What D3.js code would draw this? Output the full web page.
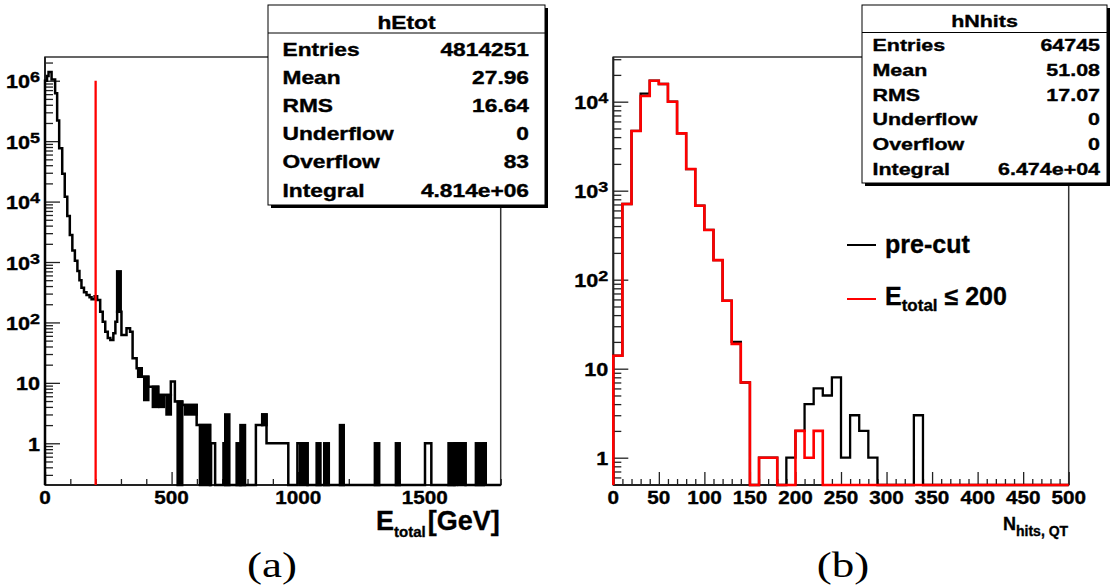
<!DOCTYPE html>
<html><head><meta charset="utf-8">
<script src="https://cdn.jsdelivr.net/npm/d3@7"></script>
<style>
html,body{margin:0;padding:0;background:#fff;}
svg{display:block;}
text{font-family:"Liberation Sans",Arial,Helvetica,sans-serif;font-weight:bold;fill:#000;stroke:#000;stroke-width:0.35px;}
text.serif{stroke:none;}
</style></head><body>
<svg id="chart" width="1114" height="588"></svg>
<script>
// ---------------- DATA ----------------
// Panel (a): hEtot, E_total in GeV
const etotRange = [0, 1800];
const etotYRange = [0.204, 2.47e6];
// [lowGeV, highGeV, count] ; gaps are empty bins
const etotBins = [
 [0,8,1.0e6],[8,14,1.2e6],[14,26,1.4e6],[26,40,1.05e6],[40,48,6.2e5],[48,56,2.2e5],
 [56,68,7.6e4],[68,78,2.9e4],[78,88,1.2e4],[88,98,5.8e3],[98,108,2.8e3],[108,118,1.55e3],
 [118,128,1.05e3],[128,136,710],[136,144,500],[144,154,376],[154,164,316],[164,176,284],
 [176,184,261],[184,196,243],[196,206,272],[206,218,236],[218,228,150],[228,238,103],
 [238,248,70],[248,258,55],[258,270,51],[270,278,66],[278,285,103],[285,302,150],
 [302,322,62],[322,336,80],[336,346,70],[346,362,25.5],[362,382,17.4],[382,408,12.6],
 [408,447,8.6],[447,497,6.3],[497,513,10.5],[513,542,4.9],[542,599,4.3],[599,652,2],
 [656,672,1],[705,712,1],[833,858,2],[858,875,3],[875,961,1],[997,1037,1],
 [1501,1526,1],[1619,1661,1],[1733,1741,1]
];
// densely alternating bins, seen as solid black: [lowGeV, highGeV, countLow, countHigh]
const etotDense = [
 [285,299,150,700],[368,382,12.6,17.4],[392,408,5.2,12.6],[426,447,4.0,8.6],[452,470,4.0,6.3],
 [480,497,3.0,6.3],[524,542,0,4.9],[553,599,3,4.3],[612,652,0,2],[712,728,0,3],[757,772,0,1],
 [772,790,0,2],[858,875,2,3],[1007,1037,0,1],[1073,1088,0,1],[1103,1121,0,1],[1165,1180,0,2],
 [1303,1320,0,1],[1386,1401,0,1],[1594,1612,0,1],[1619,1627,0,1],[1634,1661,0,1],[1702,1733,0,1]
];
const etotCut = 200;
const etotCutTop = 1e6;
const etotXTicks = [0, 500, 1000, 1500];
const etotYTicks = [1, 10, 1e2, 1e3, 1e4, 1e5, 1e6];
const etotStatsTitle = "hEtot";
const statNames = ["Entries", "Mean", "RMS", "Underflow", "Overflow", "Integral"];
const etotStatsValues = ["4814251", "27.96", "16.64", "0", "83", "4.814e+06"];

// Panel (b): hNhits, bins of 10
const nhitsRange = [0, 500];
const nhitsYRange = [0.4934, 31770];
const nhitsBinWidth = 10;
const nhitsPreCut = [14, 709, 4690, 12300, 17200, 15800, 10000, 4410, 1750, 678,
 362, 166, 58, 20, 7, 0, 1, 1, 0, 1,
 2, 4, 6, 5, 8, 1, 3, 2, 1, 0,
 0, 0, 0, 3, 0, 0, 0, 0, 0, 0,
 0, 0, 0, 0, 0, 0, 0, 0, 0, 0];
const nhitsCut = [14, 709, 4690, 11600, 17200, 15800, 10000, 4410, 1750, 678,
 362, 166, 58, 19, 7, 0, 1, 1, 0, 0,
 2, 1, 2, 0, 0, 0, 0, 0, 0, 0,
 0, 0, 0, 0, 0, 0, 0, 0, 0, 0,
 0, 0, 0, 0, 0, 0, 0, 0, 0, 0];
const nhitsXTicks = [0, 50, 100, 150, 200, 250, 300, 350, 400, 450, 500];
const nhitsYTicks = [1, 10, 1e2, 1e3, 1e4];
const nhitsStatsTitle = "hNhits";
const nhitsStatsValues = ["64745", "51.08", "17.07", "0", "0", "6.474e+04"];
const legendLabels = ["pre-cut", "E", "total", " \u2264 200"];
const captions = ["(a)", "(b)"];

// ---------------- DRAW ----------------
const svg = d3.select('#chart');
svg.append('rect').attr('width', 1114).attr('height', 588).attr('fill', '#fff');

function stepPoints(bins, xs, ys, dom, ymin) {
  const pts = [];
  let cur = dom[0];
  pts.push([xs(cur), ys(ymin)]);
  bins.forEach(([lo, hi, v]) => {
    const yv = v > 0 ? ys(v) : ys(ymin);
    if (lo > cur) { pts.push([xs(cur), ys(ymin)]); pts.push([xs(lo), ys(ymin)]); }
    pts.push([xs(lo), yv]); pts.push([xs(hi), yv]);
    cur = hi;
  });
  pts.push([xs(cur), ys(ymin)]);
  if (cur < dom[1]) pts.push([xs(dom[1]), ys(ymin)]);
  return pts;
}
const line = d3.line();

function sText(g, x, y, str, size, anchor, sx) {
  return g.append('text').attr('transform', `translate(${x},${y}) scale(${sx},1)`)
    .attr('text-anchor', anchor).style('font-size', size + 'px').text(str);
}
function yLabel(g, x, y, v) {
  const t = g.append('text').attr('transform', `translate(${x},${y}) scale(1.2,1)`)
    .attr('text-anchor', 'end').style('font-size', '18px');
  const e = Math.round(Math.log10(v));
  if (e <= 1) t.text(String(v));
  else { t.append('tspan').text('10'); t.append('tspan').attr('dy', -6).style('font-size', '15px').text(e); }
}
function minorLog(dom) {
  const out = [];
  for (let e = -2; e <= 7; e++) for (let k = 2; k <= 9; k++) {
    const v = k * Math.pow(10, e);
    if (v > dom[0] && v < dom[1]) out.push(v);
  }
  return out;
}
function styleAxis(sel) {
  sel.selectAll('path.domain').remove();
  sel.selectAll('line').attr('stroke', '#222').attr('stroke-width', 1.3);
}

function drawPanel(cfg) {
  const g = svg.append('g');
  const xs = d3.scaleLinear().domain(cfg.xDom).range([cfg.x0, cfg.x1]);
  const ys = d3.scaleLog().domain(cfg.yDom).range([cfg.yb, cfg.yt]);
  g.append('rect').attr('x', cfg.x0).attr('y', cfg.yt).attr('width', cfg.x1 - cfg.x0)
    .attr('height', cfg.yb - cfg.yt).attr('fill', 'none').attr('stroke', '#333').attr('stroke-width', 1.5);
  g.append('g').attr('transform', `translate(${cfg.x0},0)`)
    .call(d3.axisLeft(ys).tickValues(cfg.yTicks).tickSize(-15).tickSizeOuter(0).tickFormat(''))
    .call(styleAxis);
  g.append('g').attr('transform', `translate(${cfg.x0},0)`)
    .call(d3.axisLeft(ys).tickValues(minorLog(cfg.yDom)).tickSize(-8).tickSizeOuter(0).tickFormat(''))
    .call(styleAxis);
  g.append('g').attr('transform', `translate(0,${cfg.yb})`)
    .call(d3.axisBottom(xs).tickValues(cfg.xTicks).tickSize(-13).tickSizeOuter(0).tickFormat(''))
    .call(styleAxis);
  const minorX = d3.range(cfg.xDom[0], cfg.xDom[1] + 1e-9, cfg.xMinorStep).filter(v => !cfg.xTicks.includes(v));
  g.append('g').attr('transform', `translate(0,${cfg.yb})`)
    .call(d3.axisBottom(xs).tickValues(minorX).tickSize(-6).tickSizeOuter(0).tickFormat(''))
    .call(styleAxis);
  g.append('line').attr('x1', cfg.x0).attr('x2', cfg.x0).attr('y1', cfg.yt).attr('y2', cfg.yb)
    .attr('stroke', '#222').attr('stroke-width', 2);
  g.append('line').attr('x1', cfg.x0).attr('x2', cfg.x1).attr('y1', cfg.yb).attr('y2', cfg.yb)
    .attr('stroke', '#222').attr('stroke-width', 2);
  cfg.xTicks.forEach(v => sText(g, xs(v), cfg.yb + 19, String(v), 18, 'middle', 1.15));
  cfg.yTicks.forEach(v => yLabel(g, cfg.x0 - cfg.yLabelGap, ys(v) + 7.5, v));
  return { g, xs, ys };
}

// ---- Panel (a)
const A = drawPanel({ xDom: etotRange, yDom: etotYRange, x0: 45, x1: 500.7, yt: 57, yb: 485,
  yTicks: etotYTicks, xTicks: etotXTicks, xMinorStep: 100, yLabelGap: 5 });
A.g.append('path').attr('d', line(stepPoints(etotBins, A.xs, A.ys, etotRange, etotYRange[0])))
  .attr('fill', 'none').attr('stroke', '#000').attr('stroke-width', 2.5).attr('stroke-linejoin', 'miter');
A.g.selectAll('rect.dense').data(etotDense).join('rect').attr('class', 'dense')
  .attr('x', d => A.xs(d[0])).attr('width', d => A.xs(d[1]) - A.xs(d[0]))
  .attr('y', d => A.ys(d[3]))
  .attr('height', d => A.ys(d[2] > 0 ? d[2] : etotYRange[0]) - A.ys(d[3]))
  .attr('fill', '#000').attr('stroke', '#000').attr('stroke-width', 2.5);
A.g.append('line').attr('x1', A.xs(etotCut)).attr('x2', A.xs(etotCut))
  .attr('y1', A.ys(etotCutTop)).attr('y2', A.ys(etotYRange[0]))
  .attr('stroke', '#ff0000').attr('stroke-width', 2.3);
{
  const t = A.g.append('text').attr('x', 376).attr('y', 530).style('font-size', '27px');
  t.append('tspan').text('E');
  t.append('tspan').attr('dy', 7).style('font-size', '15px').text('total');
  t.append('tspan').attr('dy', -7).attr('dx', 2).text('[GeV]');
}

// ---- Panel (b)
const B = drawPanel({ xDom: nhitsRange, yDom: nhitsYRange, x0: 613.3, x1: 1068.7, yt: 57, yb: 485,
  yTicks: nhitsYTicks, xTicks: nhitsXTicks, xMinorStep: 10, yLabelGap: 5 });
const toBins = arr => arr.map((v, i) => [i * nhitsBinWidth, (i + 1) * nhitsBinWidth, v]);
B.g.append('path').attr('d', line(stepPoints(toBins(nhitsPreCut), B.xs, B.ys, nhitsRange, nhitsYRange[0])))
  .attr('fill', 'none').attr('stroke', '#000').attr('stroke-width', 2.3);
B.g.append('path').attr('d', line(stepPoints(toBins(nhitsCut), B.xs, B.ys, nhitsRange, nhitsYRange[0])))
  .attr('fill', 'none').attr('stroke', '#ff0000').attr('stroke-width', 2.6);
{
  const t = B.g.append('text').attr('x', 1003).attr('y', 530).style('font-size', '18px');
  t.append('tspan').text('N');
  t.append('tspan').attr('dy', 6).style('font-size', '14px').text('hits, QT');
}
// legend
B.g.append('line').attr('x1', 847).attr('x2', 876).attr('y1', 245).attr('y2', 245).attr('stroke', '#000').attr('stroke-width', 2);
B.g.append('line').attr('x1', 847).attr('x2', 876).attr('y1', 299).attr('y2', 299).attr('stroke', '#ff0000').attr('stroke-width', 2);
B.g.append('text').attr('x', 885).attr('y', 253).style('font-size', '25px').text(legendLabels[0]);
{
  const t = B.g.append('text').attr('x', 885).attr('y', 305).style('font-size', '25px');
  t.append('tspan').text(legendLabels[1]);
  t.append('tspan').attr('dy', 6).style('font-size', '17px').text(legendLabels[2]);
  t.append('tspan').attr('dy', -6).text(legendLabels[3]);
}

// ---- Stats boxes
function statsBox(c) {
  const g = svg.append('g');
  g.append('rect').attr('x', c.x + 3).attr('y', c.y + 3).attr('width', c.w).attr('height', c.h).attr('fill', '#000');
  g.append('rect').attr('x', c.x).attr('y', c.y).attr('width', c.w).attr('height', c.h)
    .attr('fill', '#fff').attr('stroke', '#000').attr('stroke-width', 1);
  g.append('line').attr('x1', c.x).attr('x2', c.x + c.w).attr('y1', c.div).attr('y2', c.div).attr('stroke', '#000').attr('stroke-width', 1);
  sText(g, c.x + c.w / 2, c.titleY, c.title, c.fs, 'middle', 1.3);
  c.names.forEach((n, i) => {
    sText(g, c.x + c.padL, c.row0 + i * c.dy, n, c.fs, 'start', 1.3);
    sText(g, c.x + c.w - c.padR, c.row0 + i * c.dy, c.values[i], c.fs, 'end', 1.3);
  });
}
statsBox({ x: 268, y: 5, w: 277, h: 200, div: 33, title: etotStatsTitle, titleY: 28.5, fs: 17.5,
  names: statNames, values: etotStatsValues, padL: 14.5, padR: 16, row0: 56, dy: 28.1 });
statsBox({ x: 862, y: 5, w: 245, h: 178, div: 32.5, title: nhitsStatsTitle, titleY: 26.5, fs: 16.5,
  names: statNames, values: nhitsStatsValues, padL: 10.5, padR: 7, row0: 51, dy: 24.8 });

// ---- captions
[[272, captions[0]], [843, captions[1]]].forEach(([x, s]) => {
  svg.append('text').attr('class', 'serif').attr('transform', `translate(${x},577) scale(1.25,1)`).attr('text-anchor', 'middle')
    .style('font-family', '"Liberation Serif","Times New Roman",serif').style('font-weight', 'normal')
    .style('font-size', '36px').text(s);
});
</script></body></html>
